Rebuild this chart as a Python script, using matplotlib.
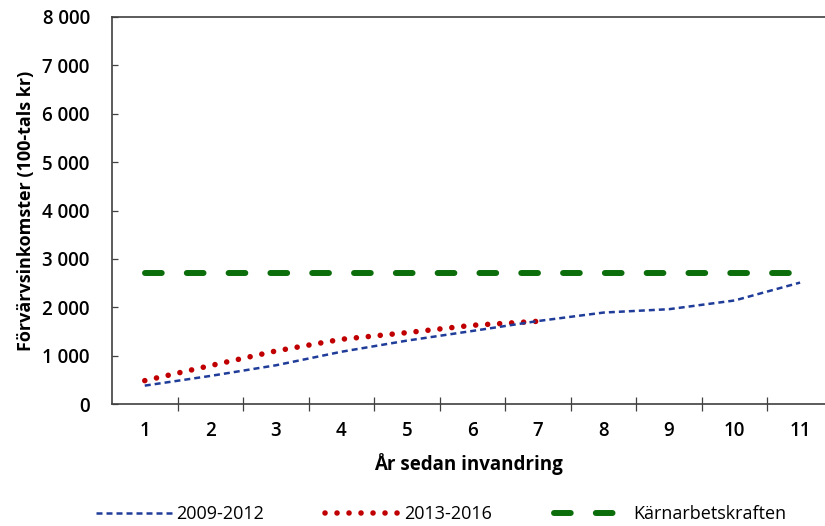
import numpy as np
import matplotlib
matplotlib.use("Agg")
import matplotlib.pyplot as plt

years = list(range(1, 12))
cohort_2009 = [380, 580, 800, 1080, 1310, 1510, 1715, 1890, 1960, 2140, 2510]
cohort_2013 = [483, 793, 1096, 1338, 1475, 1627, 1710]
core_workforce = [2700] * 11

plt.rcParams["font.family"] = ["Open Sans", "DejaVu Sans"]

fig = plt.figure(figsize=(8.25, 5.26), dpi=100)
ax = fig.add_axes([112 / 825, 122 / 526, 713 / 825, 387 / 526])

ax.plot(years, cohort_2009, color="#1f3c99", lw=1.8, linestyle=(0, (2.4, 1.6)),
        dash_capstyle="butt", label="2009-2012", zorder=3)
ax.plot(years[:len(cohort_2013)], cohort_2013, color="#c00000", lw=4,
        linestyle=(0, (0.01, 2.15)), dash_capstyle="round", label="2013-2016", zorder=2)
ax.plot(years, core_workforce, color="#0b6e0b", lw=4.3, linestyle=(0, (2.8, 4.2)),
        dash_capstyle="round", label="Kärnarbetskraften", zorder=2)

ax.set_xlim(0.5, 11.38)
ax.set_ylim(0, 8000)
ax.set_yticks(np.arange(0, 8001, 1000))
ax.set_yticklabels([f"{v:,}".replace(",", " ") for v in range(0, 8001, 1000)])
ax.set_xticks(years)
ax.set_xticks(np.arange(1.5, 11, 1), minor=True)
ax.tick_params(axis="x", which="major", length=0, pad=12, labelsize=13.5)
ax.tick_params(axis="x", which="minor", direction="inout", length=10, width=0.9, color="#404040")
ax.tick_params(axis="y", direction="in", length=4, width=0.9, color="#404040",
               labelsize=13.5, pad=16)
for lab in ax.get_xticklabels() + ax.get_yticklabels():
    lab.set_fontweight("semibold")

for side in ("left", "bottom", "top"):
    ax.spines[side].set_color("#404040")
    ax.spines[side].set_linewidth(1.2)
ax.spines["right"].set_visible(False)

ax.set_ylabel("Förvärvsinkomster (100-tals kr)", fontsize=13, fontweight="bold", labelpad=5)
ax.set_xlabel("År sedan invandring", fontsize=13.5, fontweight="bold", labelpad=9)

leg = fig.legend(loc="lower center", bbox_to_anchor=(0.535, -0.025), ncol=3, frameon=False,
                 fontsize=13, handlelength=4.2, columnspacing=3.4, handletextpad=0.2)

fig.savefig("out.png", dpi=100)
